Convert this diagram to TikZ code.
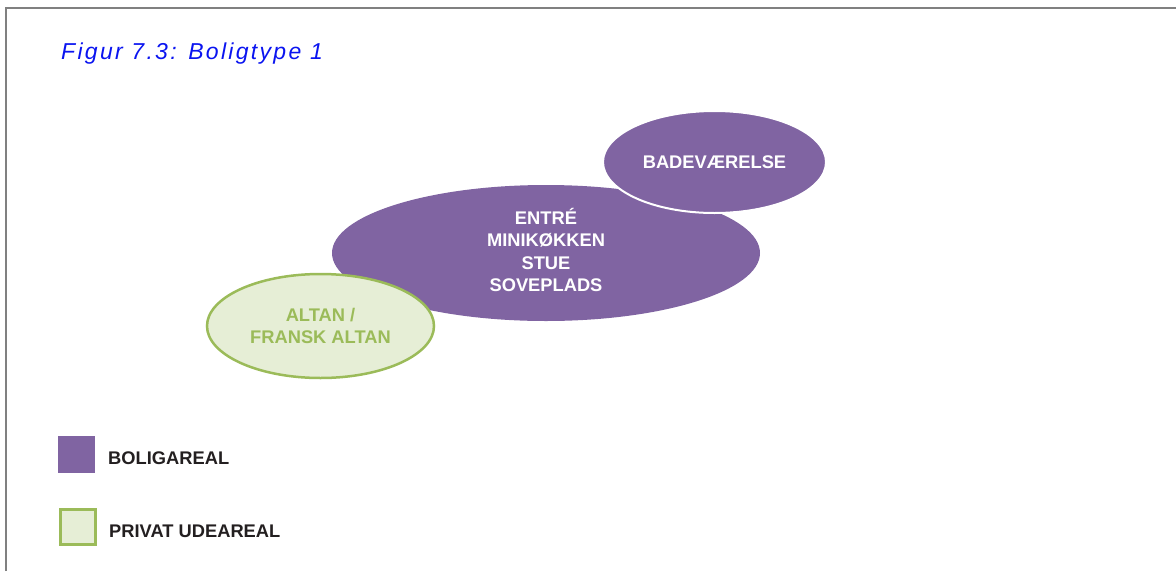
\documentclass[tikz,border=0pt]{standalone}
\usepackage{fontspec}
\setmainfont{Liberation Sans}
\newfontfamily\titlefont[LetterSpace=10]{Liberation Sans}
\usepackage{tikz}
\usepackage{xcolor}
\usetikzlibrary{shapes.geometric,positioning}

\definecolor{boligpurple}{HTML}{8064A2}
\definecolor{altangreen}{HTML}{9BBB59}
\definecolor{altanfill}{HTML}{E6EED6}
\definecolor{legendtext}{HTML}{231F20}
\definecolor{titleblue}{HTML}{0A14F0}

\begin{document}
\begin{tikzpicture}[x=1pt,y=-1pt,
                    font=\bfseries\fontsize{18.3}{22.5}\selectfont]
  \tikzstyle{every node}=[inner sep=0pt]
  \tikzstyle{bolig}=[ellipse,fill=boligpurple,text=white,align=center]
  \tikzstyle{altan}=[ellipse,fill=altanfill,draw=altangreen,line width=2.5pt,
                     text=altangreen,align=center]
  \tikzstyle{legendbox}=[minimum size=37pt]
  \tikzstyle{legendlabel}=[anchor=west,text=legendtext]

  \useasboundingbox (0,0) rectangle (1176,571);
  \draw[gray,line width=1.5pt] (6,571) |- (1176,8);

  \node[anchor=base west,text=titleblue,
        font=\titlefont\itshape\fontsize{23}{27}\selectfont] (title) at (61,59)
        {Figur 7.3: Boligtype 1};

  % rum
  \node[bolig,minimum width=428pt,minimum height=136pt] (stue) at (546,253) {};
  \node[text=white,align=center] (stueText) at ([yshift=3pt]stue.center)
        {ENTRÉ\\MINIKØKKEN\\STUE\\SOVEPLADS};
  \node[bolig,draw=white,line width=2pt,minimum width=223pt,minimum height=102pt]
        (bad) at (714.5,162) {BADEVÆRELSE};
  \node[altan,minimum width=227pt,minimum height=104pt] (altan) at (320.5,326)
        {ALTAN /\\FRANSK ALTAN};

  % signatur
  \node[legendbox,fill=boligpurple] (boxBolig) at (76.5,454.5) {};
  \node[legendlabel] (lblBolig) at (108,458) {BOLIGAREAL};
  \node[legendbox,fill=altanfill,draw=altangreen,line width=2.5pt,
        minimum size=35pt] (boxAltan) at (78,527) {};
  \node[legendlabel] (lblAltan) at (109,531) {PRIVAT UDEAREAL};
\end{tikzpicture}
\end{document}
